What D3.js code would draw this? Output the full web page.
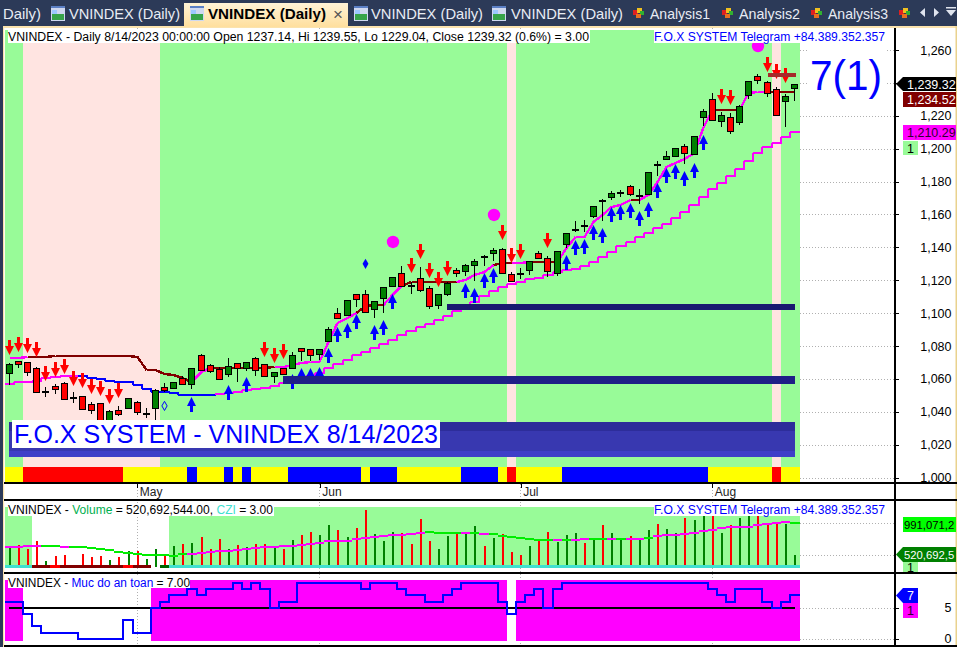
<!DOCTYPE html>
<html><head><meta charset="utf-8">
<style>
html,body{margin:0;padding:0;background:#fff;overflow:hidden}
svg{display:block}
text{font-family:"Liberation Sans",Arial,sans-serif}
</style>
<script src="https://cdn.jsdelivr.net/npm/d3@7/dist/d3.min.js"></script>
</head><body><svg id="c" width="957" height="647"></svg>
<script>
// ---------- DATA ----------
const opens=[1063.4,1071.1,1070.5,1066.5,1052.8,1055.5,1057.4,1049.2,1049.4,1044.6,1045.2,1034.4,1041.0,1042.5,1045.8,1039.5,1042.5,1054.9,1054.7,1060.4,1057.1,1074.4,1068.3,1065.9,1063.2,1069.5,1066.5,1072.6,1068.9,1061.6,1066.5,1066.8,1078.6,1078.0,1075.3,1083.3,1099.9,1098.9,1111.5,1111.5,1102.5,1109.4,1116.7,1124.2,1116.9,1121.2,1115.1,1105.1,1111.8,1126.1,1125.8,1129.5,1134.8,1136.8,1138.8,1123.6,1124.4,1126.4,1136.4,1133.3,1124.6,1142.2,1151.3,1153.6,1159.3,1168.6,1170.8,1173.7,1177.1,1171.8,1172.6,1190.9,1193.9,1195.4,1201.4,1197.0,1219.1,1230.0,1216.7,1219.1,1216.1,1232.5,1244.0,1240.4,1236.1,1228.8,1237.14];
const highs=[1069.7,1071.1,1070.5,1067.5,1055.1,1056.9,1058.0,1052.1,1049.4,1046.0,1045.4,1041.1,1043.4,1048.6,1046.8,1042.5,1053.7,1057.3,1058.3,1061.8,1066.5,1075.2,1068.9,1067.1,1072.6,1069.5,1070.1,1073.2,1068.9,1064.4,1066.7,1076.4,1078.6,1078.0,1078.0,1091.6,1103.0,1108.0,1111.5,1114.1,1107.2,1115.7,1121.8,1128.7,1119.1,1127.9,1116.5,1111.5,1119.1,1127.3,1129.7,1132.7,1135.4,1139.4,1139.4,1125.2,1127.3,1131.5,1137.8,1134.8,1137.6,1148.6,1155.9,1156.5,1165.0,1169.2,1174.1,1174.7,1177.7,1175.3,1185.6,1192.3,1198.4,1200.2,1202.6,1207.5,1224.0,1233.7,1222.1,1221.5,1226.7,1241.0,1245.2,1241.1,1237.3,1233.0,1239.55];
const lows=[1056.3,1066.7,1062.0,1052.2,1049.2,1050.8,1047.6,1045.6,1041.1,1038.7,1034.4,1033.8,1037.5,1041.6,1037.9,1036.1,1035.0,1052.2,1053.7,1056.3,1053.9,1065.0,1063.4,1059.8,1061.4,1058.3,1065.0,1061.8,1061.0,1057.7,1063.0,1066.5,1070.9,1070.9,1071.3,1082.6,1096.4,1098.3,1103.7,1100.5,1097.2,1100.3,1115.7,1116.7,1111.6,1112.7,1102.5,1102.5,1110.4,1122.0,1122.6,1119.6,1128.7,1131.7,1124.6,1119.7,1120.8,1123.2,1133.3,1121.8,1122.6,1139.4,1149.2,1149.2,1157.9,1156.2,1168.8,1170.8,1171.4,1166.4,1171.8,1183.4,1193.5,1195.4,1190.7,1196.0,1213.8,1217.3,1213.0,1208.7,1214.2,1230.0,1239.1,1231.2,1220.3,1213.4,1229.04];
const closes=[1068.9,1068.9,1064.0,1052.2,1052.8,1054.1,1048.0,1049.2,1041.9,1041.0,1035.0,1040.3,1038.9,1048.6,1040.1,1039.5,1053.1,1053.1,1058.0,1056.7,1066.5,1065.3,1065.0,1059.8,1067.7,1066.5,1070.1,1065.3,1061.6,1064.0,1063.2,1074.4,1077.2,1074.7,1078.0,1090.2,1097.2,1107.8,1108.8,1100.9,1107.2,1115.7,1121.8,1116.7,1116.9,1114.3,1104.5,1111.5,1118.2,1124.6,1129.1,1131.5,1134.8,1138.2,1124.6,1119.7,1124.4,1131.5,1133.7,1125.8,1137.6,1148.6,1151.3,1153.6,1165.0,1168.6,1172.9,1173.7,1172.6,1171.8,1185.6,1190.9,1195.4,1200.2,1197.2,1207.5,1222.7,1217.3,1220.3,1210.6,1225.8,1241.0,1241.6,1233.7,1220.3,1231.8,1239.32];
const trailUpper=[1072.6,1072.7,1073.2,1073.5,1073.5,1074.1,1074.1,1074.1,1074.1,1074.1,1074.1,1074.1,1074.1,1074.1,1073.5,1065.4,1065.4,1062.8,1062.4,1060.8,1058.3,1064.4,1066.7,1066.7,1066.7,1066.7,1066.7,1066.7,1066.7,1067.0,1067.3,1068.5,1069.9,1070.3,1070.5,1082.6,1093.8,1096.9,1099.9,1104.4,1105.0,1105.0,1111.0,1116.7,1119.1,1119.1,1119.1,1119.1,1119.1,1119.1,1120.2,1123.2,1125.2,1129.3,1130.3,1130.3,1130.3,1130.8,1130.8,1130.8,1130.8,1139.6,1146.5,1146.5,1155.6,1159.7,1164.7,1165.6,1168.8,1168.8,1171.8,1179.9,1189.0,1191.5,1193.5,1197.2,1213.4,1223.3,1223.3,1223.3,1223.3,1233.9,1234.6,1234.5,1234.52,1234.52,1234.52];
const trailLower=[1056.9,1058.0,1058.3,1058.8,1060.4,1061.4,1061.8,1062.0,1062.0,1060.8,1060.0,1058.9,1058.3,1058.3,1056.3,1053.9,1051.9,1051.9,1051.3,1050.2,1050.2,1050.2,1050.2,1050.7,1051.3,1052.2,1053.1,1054.1,1054.7,1055.9,1057.4,1058.8,1060.0,1061.8,1063.8,1066.8,1069.1,1071.5,1074.6,1076.2,1078.6,1081.2,1083.7,1086.7,1089.3,1091.8,1093.4,1095.8,1098.3,1101.5,1105.0,1107.0,1110.6,1113.7,1116.1,1117.5,1119.1,1120.6,1121.6,1122.9,1125.2,1126.2,1127.0,1128.9,1131.3,1134.3,1137.4,1140.8,1143.4,1146.1,1148.9,1151.6,1154.2,1158.0,1161.7,1165.8,1170.8,1175.3,1179.3,1183.6,1187.8,1192.7,1197.2,1201.2,1203.6,1206.9,1210.29];
// runs of bars: [first,last]
const upperFlatRuns=[[3,20],[23,29],[39,41],[44,49],[54,55],[58,60],[69,69],[78,80],[84,86]];
const lowerFallRuns=[[8,22]];
const redArrowBars=[0,1,2,3,4,5,6,7,8,9,10,11,12,28,29,30,44,45,46,47,48,54,55,56,59,78,79,83,84,85];
const redArrowTips=[1074.6,1076.6,1075.6,1073.2,1058.9,1061.4,1062.8,1055.9,1054.7,1051.0,1049.8,1045.0,1048.6,1073.5,1069.9,1071.9,1124.6,1132.9,1121.6,1116.1,1122.8,1144.7,1130.7,1132.7,1139.8,1227.2,1226.8,1246.8,1242.4,1239.8];
const blueArrowBars=[16,20,24,26,31,32,33,34,35,36,37,38,40,41,42,50,51,52,53,61,62,63,64,65,66,67,68,69,70,71,72,73,74,75,76];
const blueArrowTips=[1035.6,1049.2,1056.1,1061.0,1062.8,1066.5,1066.5,1067.1,1078.6,1091.8,1093.8,1099.3,1092.8,1095.8,1111.5,1118.2,1115.1,1124.2,1127.3,1135.4,1144.7,1144.9,1153.4,1151.6,1164.4,1165.6,1166.8,1162.0,1167.4,1178.9,1188.4,1190.5,1186.2,1191.1,1208.1];
const circleBars=[42,53,82];
const circleValues=[1143.3,1159.7,1262.4];
const diamondBars=[39];
const diamondValues=[1130.0];
const hollowDiamondBars=[17];
const hollowDiamondValues=[1043.6];
const supportZones=[[30,86,1059.4],[48,86,1103.7]];
const resistanceZones=[[83,86,1245.0]];
const riskOffRuns=[[2,16],[55,55],[84,84]];
const stripRed=[[2,12],[55,55],[84,84]];
const stripBlue=[[20,20],[24,24],[26,26],[31,38],[40,42],[50,53],[61,76]];
const volumes=[654,669,610,728,432,506,521,372,535,486,506,447,491,580,580,461,610,531,654,684,699,788,610,758,610,669,639,684,684,625,610,743,817,862,817,966,892,788,921,1188,832,728,862,847,684,1055,728,610,803,832,862,951,654,773,832,565,521,654,743,862,714,817,847,699,758,966,847,758,803,758,892,981,907,847,1070,1040,1120,1120,847,966,1070,1120,1120,996,981,981,520.69];
const dojiRedVolumeBars=[7,44,52,56,63,65,71];
const volumeAvg=[644,644,649,659,659,659,644,644,644,630,615,595,570,550,540,521,521,516,511,531,540,555,570,575,585,590,605,620,639,644,654,659,669,684,704,728,728,733,753,778,783,803,817,822,832,852,867,847,847,847,847,847,832,832,808,788,773,758,743,743,743,748,748,758,758,758,758,758,758,758,768,798,812,817,837,852,882,897,916,931,936,941,966,986,991,1015,991.07];
const volAvgFallRuns=[[4,5],[7,19],[46,49],[51,51],[53,59],[61,61],[64,65],[67,67],[70,70],[86,86]];
const cziDark=[[3,15]],cziBright=[[5,5],[13,13]],cziDarkGreen=[[17,17]],cziNone=[[16,16]];
const volumeBackdropWhite=[[3,17]];
const safety=[6,6,4,2,1,1,1,1,0,0,0,0,0,3,1,1,5,6,7,7,8,7,8,8,8,9,8,9,8,5,6,6,9,9,9,9,9,9,9,8,9,9,9,8,7,7,6,6,7,8,9,9,9,9,6,4,6,7,8,5,8,9,9,9,9,9,9,9,9,9,9,9,9,9,9,9,9,8,7,6,8,8,8,6,5,6,7];
const priceTicks=[1000,1020,1040,1060,1080,1100,1120,1140,1160,1180,1200,1220,1240,1260];
const monthBars=[14,34,56,77];
const monthNames=["May","Jun","Jul","Aug"];
const safetyTicks=[0,5];
const volumeTicks=[520.69,991.07];
const tabs=[["Daily)",3,38],["VNINDEX (Daily)",69,111],["VNINDEX (Daily)",371,112],["VNINDEX (Daily)",511,112],["Analysis1",650,60],["Analysis2",739,61],["Analysis3",828,60]];

// ---------- SCALES ----------
const n=closes.length, bars=d3.range(n);
const svg=d3.select("#c");
const xb=d3.scaleBand().domain(bars).range([4.8,799]);
const step=xb.step();
const cx=i=>Math.floor(xb(i)+step/2)+.5;
const y=d3.scaleLinear().domain([1000,1260]).range([477.6,50]);
const vy=d3.scaleLinear().domain(volumeTicks).range([555,523.3]);
const sy=d3.scaleLinear().domain([0,5]).range([638.7,607.8]);
const inRuns=(runs,i)=>runs.some(r=>i>=r[0]&&i<=r[1]);
const xEdge=i=>i>=n?800:Math.round(xb(i));

// ---------- HELPERS ----------
const rect=(g,x,yy,w,h,f)=>g.append("rect").attr("x",x).attr("y",yy).attr("width",w).attr("height",h).attr("fill",f);
const txt=(g,s,x,yy,o={})=>g.append("text").attr("x",x).attr("y",yy).attr("font-size",o.size||12).attr("fill",o.fill||"#000").attr("font-weight",o.weight||null).attr("text-anchor",o.anchor||"start").attr("textLength",o.len||null).attr("lengthAdjust",o.len?"spacingAndGlyphs":null).text(s);

// ---------- CHROME ----------
const chrome=svg.append("g");
rect(chrome,0,0,957,647,"#fff");
rect(chrome,0,0,957,26,"#2c3a58");
rect(chrome,0,0,3,647,"#2c3a58");
rect(chrome,3,26,954,2,"#fbe3ae");
rect(chrome,3,26,1.2,621,"#fbe3ae");
rect(chrome,955.5,26,1.5,621,"#e9d28e");

// dotted grid
const grid=svg.append("g").attr("stroke","#b0b0b0").attr("stroke-dasharray","1,2").attr("shape-rendering","crispEdges");
monthBars.forEach(i=>grid.append("line").attr("x1",cx(i)).attr("x2",cx(i)).attr("y1",28).attr("y2",646));
priceTicks.forEach(v=>grid.append("line").attr("x1",800).attr("x2",895).attr("y1",Math.round(y(v))+.5).attr("y2",Math.round(y(v))+.5));
volumeTicks.forEach(v=>grid.append("line").attr("x1",800).attr("x2",895).attr("y1",Math.round(vy(v))+.5).attr("y2",Math.round(vy(v))+.5));
safetyTicks.forEach(v=>grid.append("line").attr("x1",800).attr("x2",895).attr("y1",Math.round(sy(v))+.5).attr("y2",Math.round(sy(v))+.5));

// ---------- MAIN PANEL ----------
const main=svg.append("g").attr("shape-rendering","crispEdges");
bars.forEach(i=>{
  const x0=xEdge(i),x1=xEdge(i+1);
  rect(main,x0,30,x1-x0,437,inRuns(riskOffRuns,i)?"#ffe4e1":"#98fb98");
  rect(main,x0,467,x1-x0,15.5,inRuns(stripRed,i)?"#ff0000":inRuns(stripBlue,i)?"#0000ff":"#ffff00");
});
const arrow=(c,tip,d)=>`M${c},${tip}L${c+4.5},${tip+9*d}L${c+1.5},${tip+9*d}L${c+1.5},${tip+15*d}L${c-1.5},${tip+15*d}L${c-1.5},${tip+9*d}L${c-4.5},${tip+9*d}Z`;
svg.append("g").selectAll("circle").data(circleBars).join("circle").attr("cx",i=>cx(i)+.5).attr("cy",(d,k)=>y(circleValues[k])).attr("r",6.2).attr("fill","#ff00ff");
const lw=svg.append("g").attr("fill","none").attr("stroke-width",2).attr("shape-rendering","crispEdges");
// lower stair line
bars.forEach(i=>{
  const ya=Math.round(y(trailLower[i]));
  const pts=[[xEdge(i),ya],[xEdge(i+1),ya]];
  if(i<n-1)pts.push([xEdge(i+1),Math.round(y(trailLower[i+1]))]);
  lw.append("path").attr("d",d3.line()(pts)).attr("stroke",inRuns(lowerFallRuns,i)?"#0000ff":"#ff00ff");
});
// upper line
const upperLine=d3.line().x(d=>cx(d)).y(d=>Math.round(y(trailUpper[d])));
bars.slice(0,-1).forEach(i=>{
  lw.append("path").attr("d",upperLine([i,i+1])).attr("stroke",inRuns(upperFlatRuns,i+1)?"#800000":"#ff00ff").attr("stroke-width",2.4);
});
// arrows
const ar=svg.append("g");
ar.selectAll("path.b").data(blueArrowBars).join("path").attr("class","b").attr("d",(i,k)=>arrow(cx(i),Math.round(y(blueArrowTips[k])),1)).attr("fill","#0000ff");
ar.selectAll("path.r").data(redArrowBars).join("path").attr("class","r").attr("d",(i,k)=>arrow(cx(i),Math.round(y(redArrowTips[k])),-1)).attr("fill","#ff0000");
svg.append("g").selectAll("path").data(diamondBars).join("path").attr("d",d3.symbol(d3.symbolDiamond,30)()).attr("transform",(i,k)=>`translate(${cx(i)},${y(diamondValues[k])})`).attr("fill","#0000ff");
svg.append("g").selectAll("path").data(hollowDiamondBars).join("path").attr("d",d3.symbol(d3.symbolDiamond,24)()).attr("transform",(i,k)=>`translate(${cx(i)},${y(hollowDiamondValues[k])})`).attr("fill","none").attr("stroke","#0000ff");
// candles
const cg=svg.append("g").attr("shape-rendering","crispEdges");
bars.forEach(i=>{
  const c=cx(i),o=opens[i],cl=closes[i];
  cg.append("line").attr("x1",c).attr("x2",c).attr("y1",Math.round(y(highs[i]))).attr("y2",Math.round(y(lows[i]))).attr("stroke","#000");
  const top=Math.round(y(Math.max(o,cl)))+.5,bot=Math.round(y(Math.min(o,cl)))+.5;
  if(o===cl){rect(cg,c-3.5,top-1,7,2,"#000");return;}
  cg.append("rect").attr("x",c-3).attr("y",top).attr("width",6).attr("height",Math.max(1,bot-top)).attr("fill",cl>o?"#008000":"#ff0000").attr("stroke","#000");
});
// zones
const zg=svg.append("g").attr("shape-rendering","crispEdges");
supportZones.forEach((z,k)=>rect(zg,cx(z[0])-.5,y(z[2])-(k?3:4),cx(z[1])-cx(z[0])+1,k?6:8,k?"#191970":"#1f1f87"));
resistanceZones.forEach(z=>rect(zg,cx(z[0]),y(z[2])-2,cx(z[1])-cx(z[0])+1,4,"#a52a2a"));
// banner
const bn=svg.append("g").attr("shape-rendering","crispEdges");
rect(bn,9,422,786,9,"#2d2d9a");
rect(bn,9,431,786,20,"#3838b0");
rect(bn,9,451,786,6,"#3f3fc8");
rect(bn,12,420,428,28,"#fff");
txt(svg,"F.O.X SYSTEM - VNINDEX 8/14/2023",14,442.5,{size:25.5,fill:"#0000ff",len:424});
// titles
rect(svg,8,30,582,13,"#fff");
txt(svg,"VNINDEX - Daily 8/14/2023 00:00:00 Open 1237.14, Hi 1239.55, Lo 1229.04, Close 1239.32 (0.6%) = 3.00",8,41,{size:12,len:581});
rect(svg,654,30,231,13,"#fff");
txt(svg,"F.O.X SYSTEM Telegram +84.389.352.357",654,41,{size:12,fill:"#0000ff",len:231});
rect(svg,808,47,77,50,"#fff");
txt(svg,"7(1)",810,90,{size:42,fill:"#0000ff",len:72});

// ---------- VOLUME PANEL ----------
const vp=svg.append("g").attr("shape-rendering","crispEdges");
bars.forEach(i=>{
  const x0=xEdge(i),x1=xEdge(i+1);
  if(!inRuns(volumeBackdropWhite,i))rect(vp,x0,507,x1-x0,58,"#98fb98");
});
bars.forEach(i=>{
  const top=Math.max(507,Math.round(vy(volumes[i])));
  const isUp=opens[i]===closes[i]?!dojiRedVolumeBars.includes(i):closes[i]>opens[i];
  rect(vp,Math.floor(cx(i)),top,2,567-top,isUp?"#008000":"#ff0000");
});
bars.forEach(i=>{
  const x0=xEdge(i),x1=xEdge(i+1);
  let f="#40e0d0";
  if(inRuns(cziNone,i))return;
  if(inRuns(cziBright,i))f="#ff0000";
  else if(inRuns(cziDark,i))f="#800000";
  else if(inRuns(cziDarkGreen,i))f="#006400";
  rect(vp,x0,565,x1-x0,3,f);
});
bars.forEach(i=>{
  const ya=Math.round(vy(volumeAvg[i]));
  vp.append("path").attr("d",d3.line()([[xEdge(i),ya],[xEdge(i+1),ya]])).attr("fill","none").attr("stroke-width",2).attr("stroke",inRuns(volAvgFallRuns,i)?"#00ee00":"#ff00ff");
});
rect(svg,8,503,266,13,"#fff");
const vt=txt(svg,"",8,514,{size:12,len:265});
[["VNINDEX - ","#000"],["Volume","#00b050"],[" = 520,692,544.00, ","#000"],["CZI","#40e0d0"],[" = 3.00","#000"]].forEach(p=>vt.append("tspan").attr("fill",p[1]).text(p[0]));
rect(svg,654,503,231,13,"#fff");
txt(svg,"F.O.X SYSTEM Telegram +84.389.352.357",654,514,{size:12,fill:"#0000ff",len:231});

// ---------- SAFETY PANEL ----------
const sp=svg.append("g").attr("shape-rendering","crispEdges");
bars.forEach(i=>{
  if(safety[i]>=5)rect(sp,xEdge(i),580,xEdge(i+1)-xEdge(i),61,"#ff00ff");
});
rect(sp,9,Math.round(sy(5))-1,786,2,"#000");
const safePts=bars.map(i=>[xEdge(i),Math.round(sy(safety[i]))]).concat([[800,Math.round(sy(safety[n-1]))]]);
sp.append("path").attr("d",d3.line().curve(d3.curveStepAfter)(safePts)).attr("fill","none").attr("stroke","#0000ff").attr("stroke-width",2);
rect(svg,8,576,182,12,"#fff");
const st=txt(svg,"",8,587,{size:12,len:182});
[["VNINDEX - ","#000"],["Muc do an toan","#0000ff"],[" = 7.00","#000"]].forEach(p=>st.append("tspan").attr("fill",p[1]).text(p[0]));

// ---------- AXES ----------
const frame=svg.append("g").attr("stroke","#000").attr("stroke-width",1.5).attr("shape-rendering","crispEdges");
[[4,483,957,483],[4,500,957,500],[4,573,957,573],[4,646,957,646],[895,28,895,646]].forEach(l=>frame.append("line").attr("x1",l[0]).attr("y1",l[1]).attr("x2",l[2]).attr("y2",l[3]));
const styleRight=g=>{g.select(".domain").remove();g.selectAll("line").attr("stroke","#000").attr("shape-rendering","crispEdges");g.selectAll("text").attr("text-anchor","end").attr("x",56.5).attr("font-size",12.5).attr("font-family",'"Liberation Sans",Arial,sans-serif').attr("fill","#000");};
// the 1,240 label sits under the last-price tag in the reference, so only its tick is drawn
svg.append("g").attr("transform","translate(895,0)").call(d3.axisRight(y).tickValues(priceTicks).tickFormat(v=>v===1240?"":d3.format(",")(v)).tickSize(4)).call(styleRight);
svg.append("g").attr("transform","translate(895,0)").call(d3.axisRight(sy).tickValues(safetyTicks).tickFormat(d3.format("d")).tickSize(4)).call(styleRight);
const xAxisScale=d3.scaleLinear().domain([0,n-1]).range([cx(0),cx(n-1)]);
svg.append("g").attr("transform","translate(0,483)").call(d3.axisBottom(xAxisScale).tickValues(monthBars).tickFormat((d,k)=>monthNames[k]).tickSize(5)).call(g=>{
  g.select(".domain").remove();
  g.selectAll("line").attr("stroke","#000").attr("shape-rendering","crispEdges");
  g.selectAll("text").attr("text-anchor","start").attr("x",2).attr("y",4).attr("dy","0.71em").attr("font-size",12).attr("font-family",'"Liberation Sans",Arial,sans-serif').attr("fill","#222");
});

// ---------- VALUE TAGS ----------
const tag=(x0,yy,w,h,fill,label,color,pointed,tsize)=>{
  const g=svg.append("g").attr("shape-rendering","crispEdges");
  if(pointed)g.append("path").attr("d",`M896,${yy+h/2}L${x0},${yy}L${x0},${yy+h}Z`).attr("fill",fill).attr("shape-rendering","auto");
  rect(g,x0,yy,w,h,fill);
  txt(svg,label,x0+(w>20?(tsize?1:4):w/2),yy+h/2+4.5,{size:tsize||12.5,fill:color,anchor:w>20?"start":"middle"});
};
tag(903,77,53,14,"#000","1,239.32","#fff",true);
tag(903,92,53,15,"#800000","1,234.52","#fff",false);
tag(903,125,53,15,"#ff00ff","1,210.29","#300030",false);
tag(903,141,15,14,"#98fb98","1","#000",false);
tag(903,517,53,15,"#00ff00","991,071,2","#000",false,11.3);
tag(903,547,53,15,"#008000","520,692,5","#fff",true,11.3);
tag(903,562,15,10,"#98fb98","1","#000",false);
tag(903,588,15,15,"#0000ff","7","#fff",true);
tag(903,603,15,15,"#ff00ff","1","#300030",false);

// ---------- TABS ----------
const defs=svg.append("defs");
const gr=defs.append("linearGradient").attr("id","act").attr("x1",0).attr("y1",0).attr("x2",0).attr("y2",1);
gr.append("stop").attr("offset","0").attr("stop-color","#fff3d6");
gr.append("stop").attr("offset","1").attr("stop-color","#ffdf9e");
const tb=svg.append("g");
rect(tb,184,3,164,24,"url(#act)");
const tabIcon=(x)=>{rect(tb,x,6,14,15,"#cfd8f0");rect(tb,x,6,14,2,"#5b7fc4");rect(tb,x+1,14,12,6,"#37a44a");rect(tb,x+1,10,5,4,"#9cc8ff");};
[51,190,354,492].forEach(tabIcon);
tabs.forEach(t=>txt(tb,t[0],t[1],19,{size:14.5,fill:"#e8ecf4",len:t[2]}));
txt(tb,"VNINDEX (Daily)",208,19,{size:15,weight:"bold",fill:"#000",len:118});
txt(tb,"×",333,20,{size:17,fill:"#555"});
const analysisIcon=x=>{rect(tb,x,10,5,5,"#e02020");rect(tb,x+4,8,5,5,"#f0c020");rect(tb,x+7,11,4,4,"#30b030");rect(tb,x+3,14,5,4,"#e87020");};
[633,722,811,899].forEach(analysisIcon);
tb.append("path").attr("d","M925,8L925,17L920,12.5Z M934,8L934,17L939,12.5Z").attr("fill","#dfe4ee");
tb.append("path").attr("d","M946,10L956,10L951,16Z M946,7L956,7L956,8.5L946,8.5Z").attr("fill","#dfe4ee");
</script></body></html>
